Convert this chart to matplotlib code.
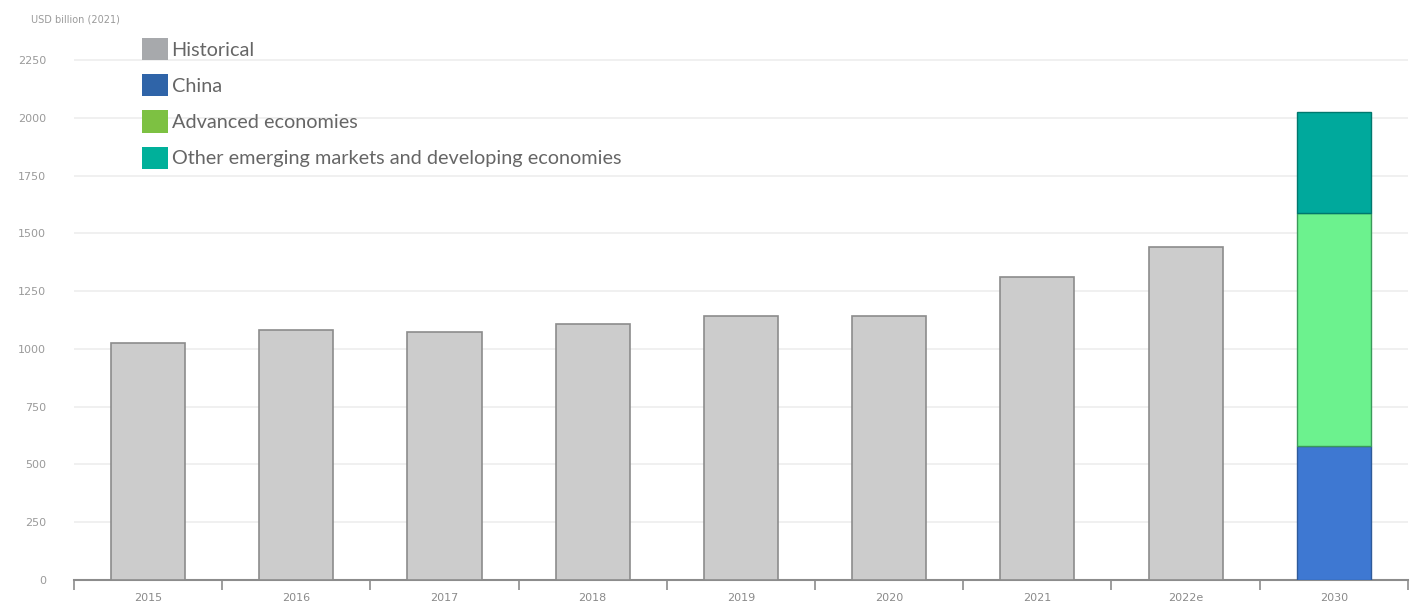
import matplotlib.pyplot as plt
from matplotlib.patches import Patch
import numpy as np

years = ['2015', '2016', '2017', '2018', '2019', '2020', '2021', '2022e']
historical = [1025, 1081, 1073, 1107, 1142, 1142, 1311, 1440]

outlook_year = '2030'
china = 580
advanced = 1007
other_emde = 437

legend_labels = ['Historical', 'China', 'Advanced economies',
                 'Other emerging markets and developing economies']
legend_colors = ['#a7a9ac', '#2f64a8', '#7dc142', '#00b09a']

fig = plt.figure(figsize=(14.21, 6.09), dpi=100)
ax = fig.add_axes([0.052, 0.0476, 0.9388, 0.869])

x_hist = np.arange(len(years))
x_out = len(years)
width = 0.5

ax.bar(x_hist, historical, width, color='#cccccc', edgecolor='#8c8c8c',
       linewidth=1.2, zorder=3)
ax.bar(x_out, china, width, color='#3e78d2', edgecolor='#2e5a9a',
       linewidth=1.0, zorder=3)
ax.bar(x_out, advanced, width, bottom=china, color='#6cf28e',
       edgecolor='#3a9a5a', linewidth=1.0, zorder=3)
ax.bar(x_out, other_emde, width, bottom=china + advanced, color='#00a99c',
       edgecolor='#00786e', linewidth=1.0, zorder=3)

ax.set_xlim(-0.5, x_out + 0.5)
ax.set_ylim(0, 2290)
ax.set_yticks(np.arange(0, 2251, 250))
ax.tick_params(axis='y', length=0, labelsize=8, labelcolor='#9a9a9a', pad=20)
ax.grid(axis='y', color='#eeeeee', linewidth=1.2, zorder=0)

# category labels at the centers, tick marks at the boundaries
ax.set_xticks(np.arange(x_out + 1))
ax.set_xticklabels(years + [outlook_year], fontsize=8, color='#8a8a8a')
ax.tick_params(axis='x', which='major', length=0, pad=9)
ax.set_xticks(np.arange(-0.5, x_out + 1), minor=True)
ax.tick_params(axis='x', which='minor', length=7, width=1.2, color='#8c8c8c',
               direction='out')

for side in ['top', 'right', 'left']:
    ax.spines[side].set_visible(False)
ax.spines['bottom'].set_color('#8c8c8c')
ax.spines['bottom'].set_linewidth(1.5)

fig.text(0.022, 0.968, 'USD billion (2021)', fontsize=7, color='#9a9a9a',
         ha='left', va='center')

handles = [Patch(facecolor=c, edgecolor='none') for c in legend_colors]
ax.legend(handles, legend_labels, loc='upper left', bbox_to_anchor=(0.0375, 1.058),
          frameon=False, handlelength=1.3, handleheight=1.35,
          handletextpad=0.2, labelspacing=0.7, labelcolor='#666666',
          prop={'family': 'Lato', 'size': 14.3})

fig.savefig('out.png', dpi=100)
